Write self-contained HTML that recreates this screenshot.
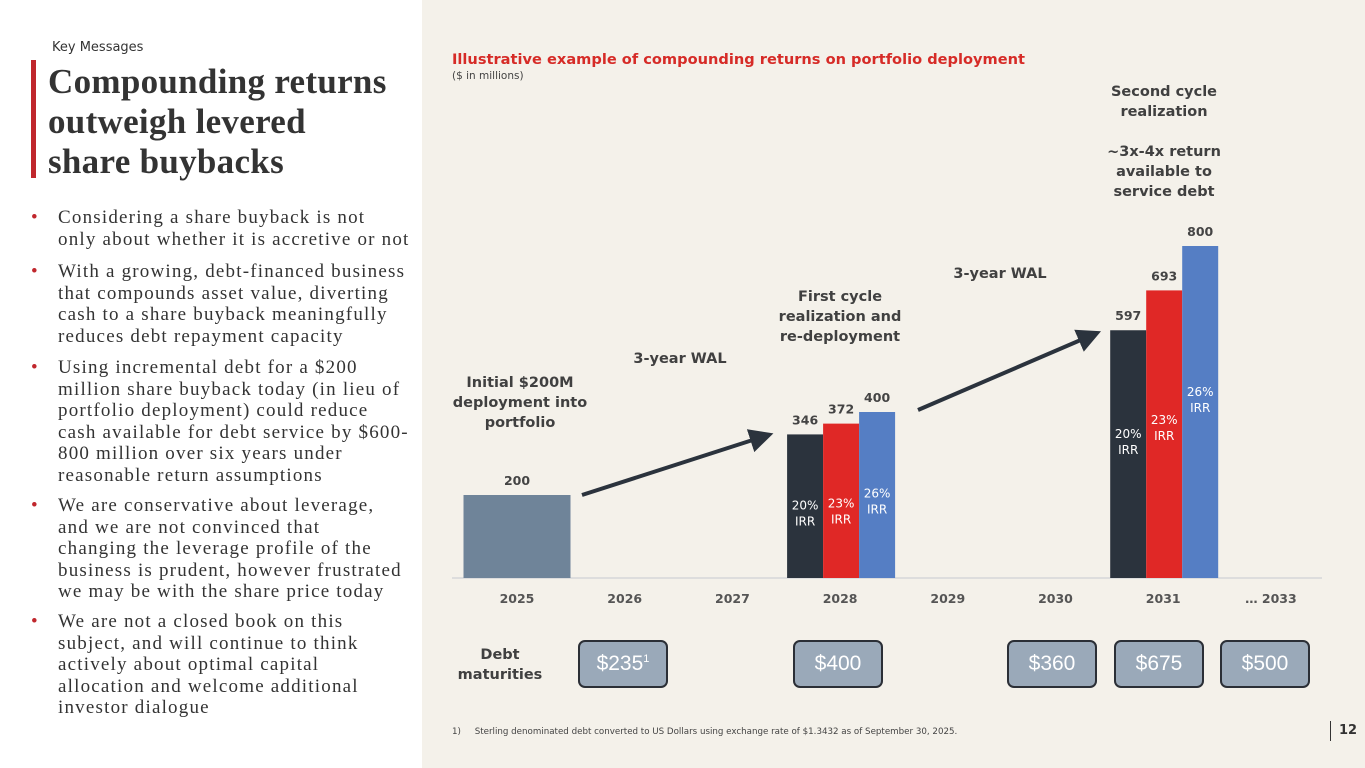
<!DOCTYPE html>
<html><head><meta charset="utf-8">
<style>
body{margin:0;width:1365px;height:768px;position:relative;overflow:hidden;background:#fff;font-family:"DejaVu Sans",sans-serif}
.abs{position:absolute}
#right{position:absolute;left:422px;top:0;width:943px;height:768px;background:#f4f1ea}
.bul{font-family:"Liberation Serif",serif;font-size:19px;line-height:21.5px;color:#333;position:absolute;left:58px;white-space:nowrap;letter-spacing:1.2px}
.bul:before{content:"•";color:#c0272d;position:absolute;left:-27px}
.lbl{font-weight:bold;color:#404040;font-size:14.5px;text-align:center;line-height:20px;font-family:"DejaVu Sans",sans-serif}
.debt{position:absolute;top:640px;height:48px;width:90px;background:#9aa9b9;border:2px solid #2b2f36;border-radius:7px;color:#fff;font-size:21px;line-height:44px;text-align:center;box-sizing:border-box;font-family:"Liberation Sans",sans-serif}
</style></head><body>
<div class="abs" style="left:52px;top:40px;font-size:13px;color:#333">Key Messages</div>
<div class="abs" style="left:31px;top:60px;width:5px;height:118px;background:#c0272d"></div>
<div class="abs" style="left:48px;top:62px;width:345px;font-family:'Liberation Serif',serif;font-weight:bold;font-size:35px;line-height:40px;color:#333;letter-spacing:0.3px">Compounding returns outweigh levered share buybacks</div>
<div class="bul" style="top:207px">Considering a share buyback is not<br>only about whether it is accretive or not</div>
<div class="bul" style="top:261px">With a growing, debt-financed business<br>that compounds asset value, diverting<br>cash to a share buyback meaningfully<br>reduces debt repayment capacity</div>
<div class="bul" style="top:357px">Using incremental debt for a $200<br>million share buyback today (in lieu of<br>portfolio deployment) could reduce<br>cash available for debt service by $600-<br>800 million over six years under<br>reasonable return assumptions</div>
<div class="bul" style="top:495px">We are conservative about leverage,<br>and we are not convinced that<br>changing the leverage profile of the<br>business is prudent, however frustrated<br>we may be with the share price today</div>
<div class="bul" style="top:611px">We are not a closed book on this<br>subject, and will continue to think<br>actively about optimal capital<br>allocation and welcome additional<br>investor dialogue</div>
<div id="right"></div>
<div class="abs" style="left:452px;top:51px;font-size:14.6px;font-weight:bold;color:#d62b27">Illustrative example of compounding returns on portfolio deployment</div>
<div class="abs" style="left:452px;top:70px;font-size:10.5px;color:#444">($ in millions)</div>
<svg class="abs" style="left:0;top:0" width="1365" height="768" id="chart"></svg>
<div class="abs lbl" style="left:440px;top:373px;width:160px">Initial $200M deployment into portfolio</div>
<div class="abs lbl" style="left:615px;top:349px;width:130px">3-year WAL</div>
<div class="abs lbl" style="left:765px;top:287px;width:150px">First cycle realization and re-deployment</div>
<div class="abs lbl" style="left:935px;top:264px;width:130px">3-year WAL</div>
<div class="abs lbl" style="left:1094px;top:82px;width:140px">Second cycle realization<br><br>~3x-4x return available to service debt</div>
<div class="abs lbl" style="left:445px;top:645px;width:110px">Debt maturities</div>
<div class="debt" style="left:578px">$235<sup style="font-size:11px;line-height:0">1</sup></div>
<div class="debt" style="left:793px">$400</div>
<div class="debt" style="left:1007px">$360</div>
<div class="debt" style="left:1114px">$675</div>
<div class="debt" style="left:1220px">$500</div>
<div class="abs" style="left:452px;top:727px;font-size:8.7px;color:#444">1)&nbsp;&nbsp;&nbsp;&nbsp;&nbsp;Sterling denominated debt converted to US Dollars using exchange rate of $1.3432 as of September 30, 2025.</div>
<div class="abs" style="left:1330px;top:721px;font-size:13px;font-weight:bold;color:#333;border-left:1px solid #333;padding-left:8px;line-height:20px">12</div>
<script>
const categories=["2025","2026","2027","2028","2029","2030","2031","… 2033"];
const initialValue=[200];
const rate20=[346,597];
const rate23=[372,693];
const rate26=[400,800];
const groupIdx=[3,6];
const irrLabels=["20%","23%","26%"];
const NS="http://www.w3.org/2000/svg";
const svg=document.getElementById('chart');
const base=578,scale=0.415,x0=517,step=107.7;
const xs=i=>x0+i*step, ys=v=>base-v*scale;
function mk(t,a){const e=document.createElementNS(NS,t);for(const k in a)e.setAttribute(k,a[k]);svg.appendChild(e);return e;}
function txt(x,y,s,fill,size,w){const e=mk('text',{x:x,y:y,'text-anchor':'middle',fill:fill,'font-size':size,'font-weight':w||'normal','font-family':'DejaVu Sans, sans-serif'});e.textContent=s;return e;}
const ax=mk('line',{x1:452,x2:1322,y1:base,y2:base,stroke:'#ddd','stroke-width':2});


categories.forEach((c,i)=>{const t=txt(xs(i),603,c,'#555',12.5,'bold');

});
const b0=mk('rect',{x:xs(0)-53.5,y:ys(initialValue[0]),width:107,height:initialValue[0]*scale,fill:'#6f8499'});


txt(xs(0),ys(initialValue[0])-10,String(initialValue[0]),'#444',12.5,'bold');
const cols=['#2b333d','#e02826','#557ec4'];
const series=[rate20,rate23,rate26];
groupIdx.forEach((gi,g)=>{
  series.forEach((s,k)=>{
    const v=s[g],bx=xs(gi)+1-54+k*36;
    const r=mk('rect',{x:bx,y:ys(v),width:36,height:v*scale,fill:cols[k]});
    
    
    txt(bx+18,ys(v)-10,String(v),'#444',12.5,'bold');
    const ly=g===0?ys(rate20[0])+75+(k==1?-2:0)-(k==2?12:0):ys(rate20[1])+108-(k==1?14:0)-(k==2?42:0);
    txt(bx+18,ly,irrLabels[k],'#fff',12);
    txt(bx+18,ly+16,'IRR','#fff',12);
  });
});
mk('defs',{}).innerHTML='<marker id="ah" markerWidth="6" markerHeight="6" refX="3" refY="3" orient="auto"><path d="M0,0 L6,3 L0,6 z" fill="#2b333d"/></marker>';
const a1=mk('line',{x1:582,y1:495,x2:762,y2:437,stroke:'#2b333d','stroke-width':4,'marker-end':'url(#ah)'});


const a2=mk('line',{x1:918,y1:410,x2:1090,y2:336,stroke:'#2b333d','stroke-width':4,'marker-end':'url(#ah)'});


</script>
</body></html>
